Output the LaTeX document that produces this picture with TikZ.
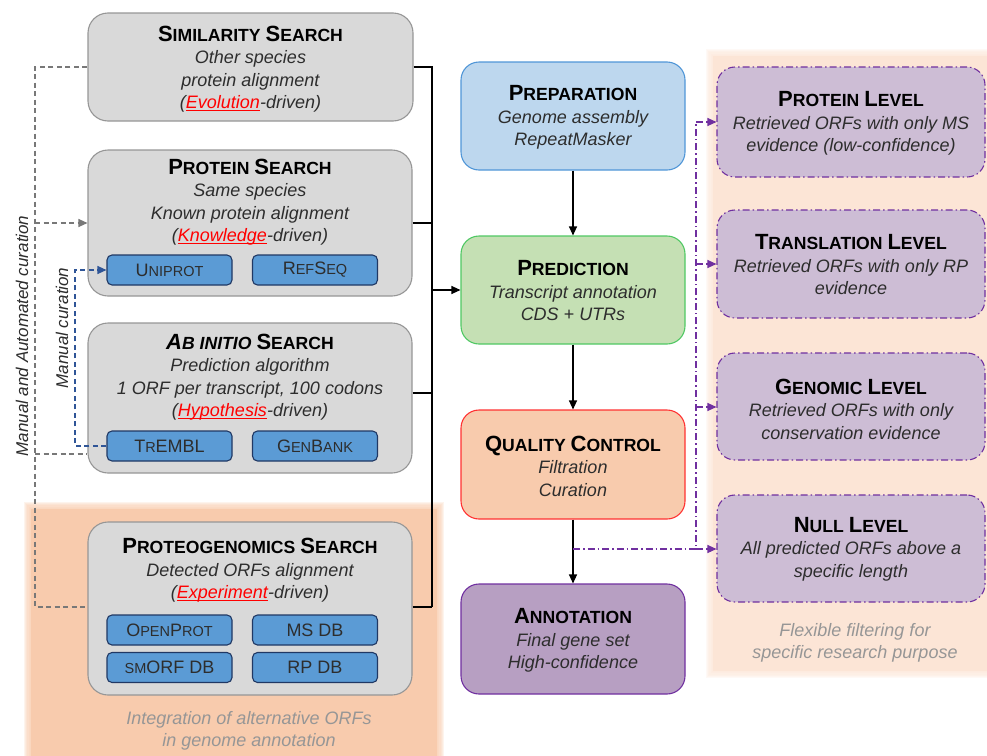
\documentclass[tikz,border=0pt]{standalone}
\usepackage{fontspec}
\setmainfont{Liberation Sans}
\usetikzlibrary{arrows.meta,calc}
\definecolor{gfill}{RGB}{217,217,217}
\definecolor{gbord}{RGB}{150,150,150}
\definecolor{dbfill}{RGB}{91,155,213}
\definecolor{dbbord}{RGB}{32,56,100}
\definecolor{prepf}{RGB}{189,215,238}
\definecolor{prepb}{RGB}{80,150,215}
\definecolor{predf}{RGB}{197,224,180}
\definecolor{predb}{RGB}{80,200,100}
\definecolor{qcf}{RGB}{248,203,173}
\definecolor{qcb}{RGB}{255,50,50}
\definecolor{annf}{RGB}{183,159,194}
\definecolor{annb}{RGB}{112,48,160}
\definecolor{rfill}{RGB}{205,189,213}
\definecolor{purp}{RGB}{112,48,160}
\definecolor{orbg}{RGB}{248,203,173}
\definecolor{lorbg}{RGB}{252,229,214}
\definecolor{tgray}{RGB}{45,45,45}
\definecolor{capgray}{RGB}{150,150,150}
\definecolor{dgray}{RGB}{120,120,120}
\definecolor{bdash}{RGB}{47,85,151}
\newcommand\tsc[2]{{\fontsize{22}{22.5}\selectfont #1}{\fontsize{17.6}{22.5}\selectfont #2}}
\newcommand\dsc[2]{{\fontsize{18}{20}\selectfont #1}{\fontsize{14.5}{20}\selectfont #2}}
\newcommand\ttl{\bfseries\upshape\color{black}}
\newcommand\redu[1]{{\color{red}\setbox0\hbox{#1}\rlap{\rule[-2.6pt]{\wd0}{1pt}}\box0}}
\newcommand\bodyfont{\fontsize{18}{22.5}\selectfont\itshape}
\begin{document}
\begin{tikzpicture}[x=1pt,y=-1pt,
  gbox/.style={draw=gbord, fill=gfill, line width=1.1pt, rounded corners=20pt, inner sep=0},
  dbbox/.style={draw=dbbord, fill=dbfill, line width=1.1pt, rounded corners=5pt, minimum width=125pt, minimum height=30pt, inner sep=0, text=tgray},
  cbox/.style={line width=1.1pt, rounded corners=18pt, minimum width=224pt, minimum height=108pt, inner sep=0},
  rbox/.style={draw=purp, fill=rfill, line width=1.1pt, dash pattern=on 7pt off 3pt on 1.5pt off 3pt, rounded corners=18pt, minimum width=268pt, inner sep=0},
  txt/.style={align=center, font=\bodyfont, inner sep=0, text=tgray},
  rot/.style={rotate=90, font=\fontsize{17}{20}\selectfont\itshape, text=tgray, inner sep=0},
  blk/.style={line width=1.1pt, draw=black},
  tip/.style={-{Triangle[length=9pt,width=8pt]}},
  gd/.style={line width=1.1pt, draw=dgray, dash pattern=on 5pt off 3.5pt},
  bd/.style={line width=1.1pt, draw=bdash, dash pattern=on 5pt off 3.5pt},
  pd/.style={line width=1.1pt, draw=purp, dash pattern=on 7pt off 3pt on 1.5pt off 3pt}
]
\useasboundingbox (0,0) rectangle (987,755);
% backgrounds (soft edges)
\foreach \d in {1,2,...,6}{
  \fill[orbg, opacity=0.22] (31-\d*1.2,509-\d*1.2) rectangle (437+\d*1.2,760);
  \fill[lorbg, opacity=0.22] (713-\d*1.2,56-\d*1.2) rectangle (990,671+\d*1.2);
}
\fill[orbg] (31,509) rectangle (437,760);
\fill[lorbg] (713,56) rectangle (990,671);

% left boxes
\node[gbox, minimum width=325pt, minimum height=108pt] (sim) at (250.5,67) {};
\node[txt] (simT) at (250.5,69) {{\ttl\tsc{S}{IMILARITY} \tsc{S}{EARCH}}\\Other species\\protein alignment\\(\redu{Evolution}-driven)};

\node[gbox, minimum width=324pt, minimum height=146pt] (prot) at (250,223) {};
\node[txt] (protT) at (250,202) {{\ttl\tsc{P}{ROTEIN} \tsc{S}{EARCH}}\\Same species\\Known protein alignment\\(\redu{Knowledge}-driven)};
\node[dbbox] (uni) at (169.5,270) {\dsc{U}{NIPROT}};
\node[dbbox] (ref) at (315,270) {\dsc{R}{EF}\dsc{S}{EQ}};

\node[gbox, minimum width=324pt, minimum height=150pt] (abin) at (250,398) {};
\node[txt] (abinT) at (250,377) {{\ttl\itshape\tsc{A}{B INITIO}\upshape\ \tsc{S}{EARCH}}\\Prediction algorithm\\1 ORF per transcript, 100 codons\\(\redu{Hypothesis}-driven)};
\node[dbbox] (tre) at (169.5,446) {\dsc{T}{R}\dsc{EMBL}{}};
\node[dbbox] (gen) at (315,446) {\dsc{G}{EN}\dsc{B}{ANK}};

\node[gbox, minimum width=324pt, minimum height=173pt] (proteo) at (250,608.5) {};
\node[txt] (proteoT) at (250,570.5) {{\ttl\tsc{P}{ROTEOGENOMICS} \tsc{S}{EARCH}}\\Detected ORFs alignment\\(\redu{Experiment}-driven)};
\node[dbbox] (open) at (169.5,630) {\dsc{O}{PEN}\dsc{P}{ROT}};
\node[dbbox] (ms) at (315,630) {\dsc{MS DB}{}};
\node[dbbox] (smorf) at (169.5,667.5) {\dsc{}{SM}\dsc{ORF DB}{}};
\node[dbbox] (rp) at (315,667.5) {\dsc{RP DB}{}};

\node[txt, text=capgray] (capL) at (249,731) {Integration of alternative ORFs\\in genome annotation};

% center boxes
\node[cbox, draw=prepb, fill=prepf] (prep) at (573,116) {};
\node[txt] (prepT) at (573,117.5) {{\ttl\tsc{P}{REPARATION}}\\Genome assembly\\RepeatMasker};
\node[cbox, draw=predb, fill=predf] (pred) at (573,290) {};
\node[txt] (predT) at (573,291) {{\ttl\tsc{P}{REDICTION}}\\Transcript annotation\\CDS + UTRs};
\node[cbox, draw=qcb, fill=qcf, minimum height=109pt] (qc) at (573,464.5) {};
\node[txt] (qcT) at (573,466) {{\ttl\tsc{Q}{UALITY} \tsc{C}{ONTROL}}\\Filtration\\Curation};
\node[cbox, draw=annb, fill=annf, minimum height=110pt] (ann) at (573,639) {};
\node[txt] (annT) at (573,640.5) {{\ttl\tsc{A}{NNOTATION}}\\Final gene set\\High-confidence};

% right boxes
\node[rbox, minimum height=110pt] (pl) at (851,122) {};
\node[txt] (plT) at (851,123.5) {{\ttl\tsc{P}{ROTEIN} \tsc{L}{EVEL}}\\Retrieved ORFs with only MS\\evidence (low-confidence)};
\node[rbox, minimum height=108pt] (tl) at (851,264) {};
\node[txt] (tlT) at (851,265) {{\ttl\tsc{T}{RANSLATION} \tsc{L}{EVEL}}\\Retrieved ORFs with only RP\\evidence};
\node[rbox, minimum height=107pt] (gl) at (851,406.5) {};
\node[txt] (glT) at (851,409) {{\ttl\tsc{G}{ENOMIC} \tsc{L}{EVEL}}\\Retrieved ORFs with only\\conservation evidence};
\node[rbox, minimum height=107pt] (nl) at (851,548.5) {};
\node[txt] (nlT) at (851,549) {{\ttl\tsc{N}{ULL} \tsc{L}{EVEL}}\\All predicted ORFs above a\\specific length};

\node[txt, text=capgray] (capR) at (855,643) {Flexible filtering for\\specific research purpose};

% rotated labels
\node[rot] (lab1) at (22,336) {Manual and Automated curation};
\node[rot] (lab2) at (62,328) {Manual curation};

% black bracket
\coordinate (k1) at (432,67);
\coordinate (k2) at (432,223);
\coordinate (k3) at (432,393);
\coordinate (k4) at (432,607);
\coordinate (km) at (432,290);
\draw[blk] (sim.east) -- (k1) -- (k4);
\draw[blk] (prot.east) -- (k2);
\draw[blk] (k3 -| abin.east) -- (k3);
\draw[blk] (k4 -| proteo.east) -- (k4);
\draw[blk, tip] (km) -- (pred.west);

% center arrows
\draw[blk, tip] (prep.south) -- (pred.north);
\draw[blk, tip] (pred.south) -- (qc.north);
\draw[blk, tip] (qc.south) -- (ann.north);

% purple dash-dot
\coordinate (p0) at (573,549);
\coordinate (pv) at (696,549);
\coordinate (pt) at (696,122);
\coordinate (p2) at (696,264);
\coordinate (p3) at (696,407);
\draw[pd] (p0) -- (pv) -- (pt);
\draw[pd, tip, purp] (pt) -- (pl.west);
\draw[pd, tip, purp] (p2) -- (p2 -| tl.west);
\draw[pd, tip, purp] (p3) -- (p3 -| gl.west);
\draw[pd, tip, purp] (pv) -- (pv -| nl.west);

% gray dashed
\coordinate (g1) at (35,67);
\coordinate (g2) at (35,223);
\coordinate (g3) at (35,454);
\coordinate (g4) at (35,607);
\draw[gd] (sim.west) -- (g1) -- (g4) -- (g4 -| proteo.west);
\draw[gd] (g3) -- (g3 -| abin.west);
\draw[gd, tip, dgray] (g2) -- (prot.west);

% blue dashed
\coordinate (b1) at (75,446);
\coordinate (b2) at (75,270);
\draw[bd, tip, bdash] (tre.west) -- (b1) -- (b2) -- (uni.west);
\end{tikzpicture}
\end{document}
